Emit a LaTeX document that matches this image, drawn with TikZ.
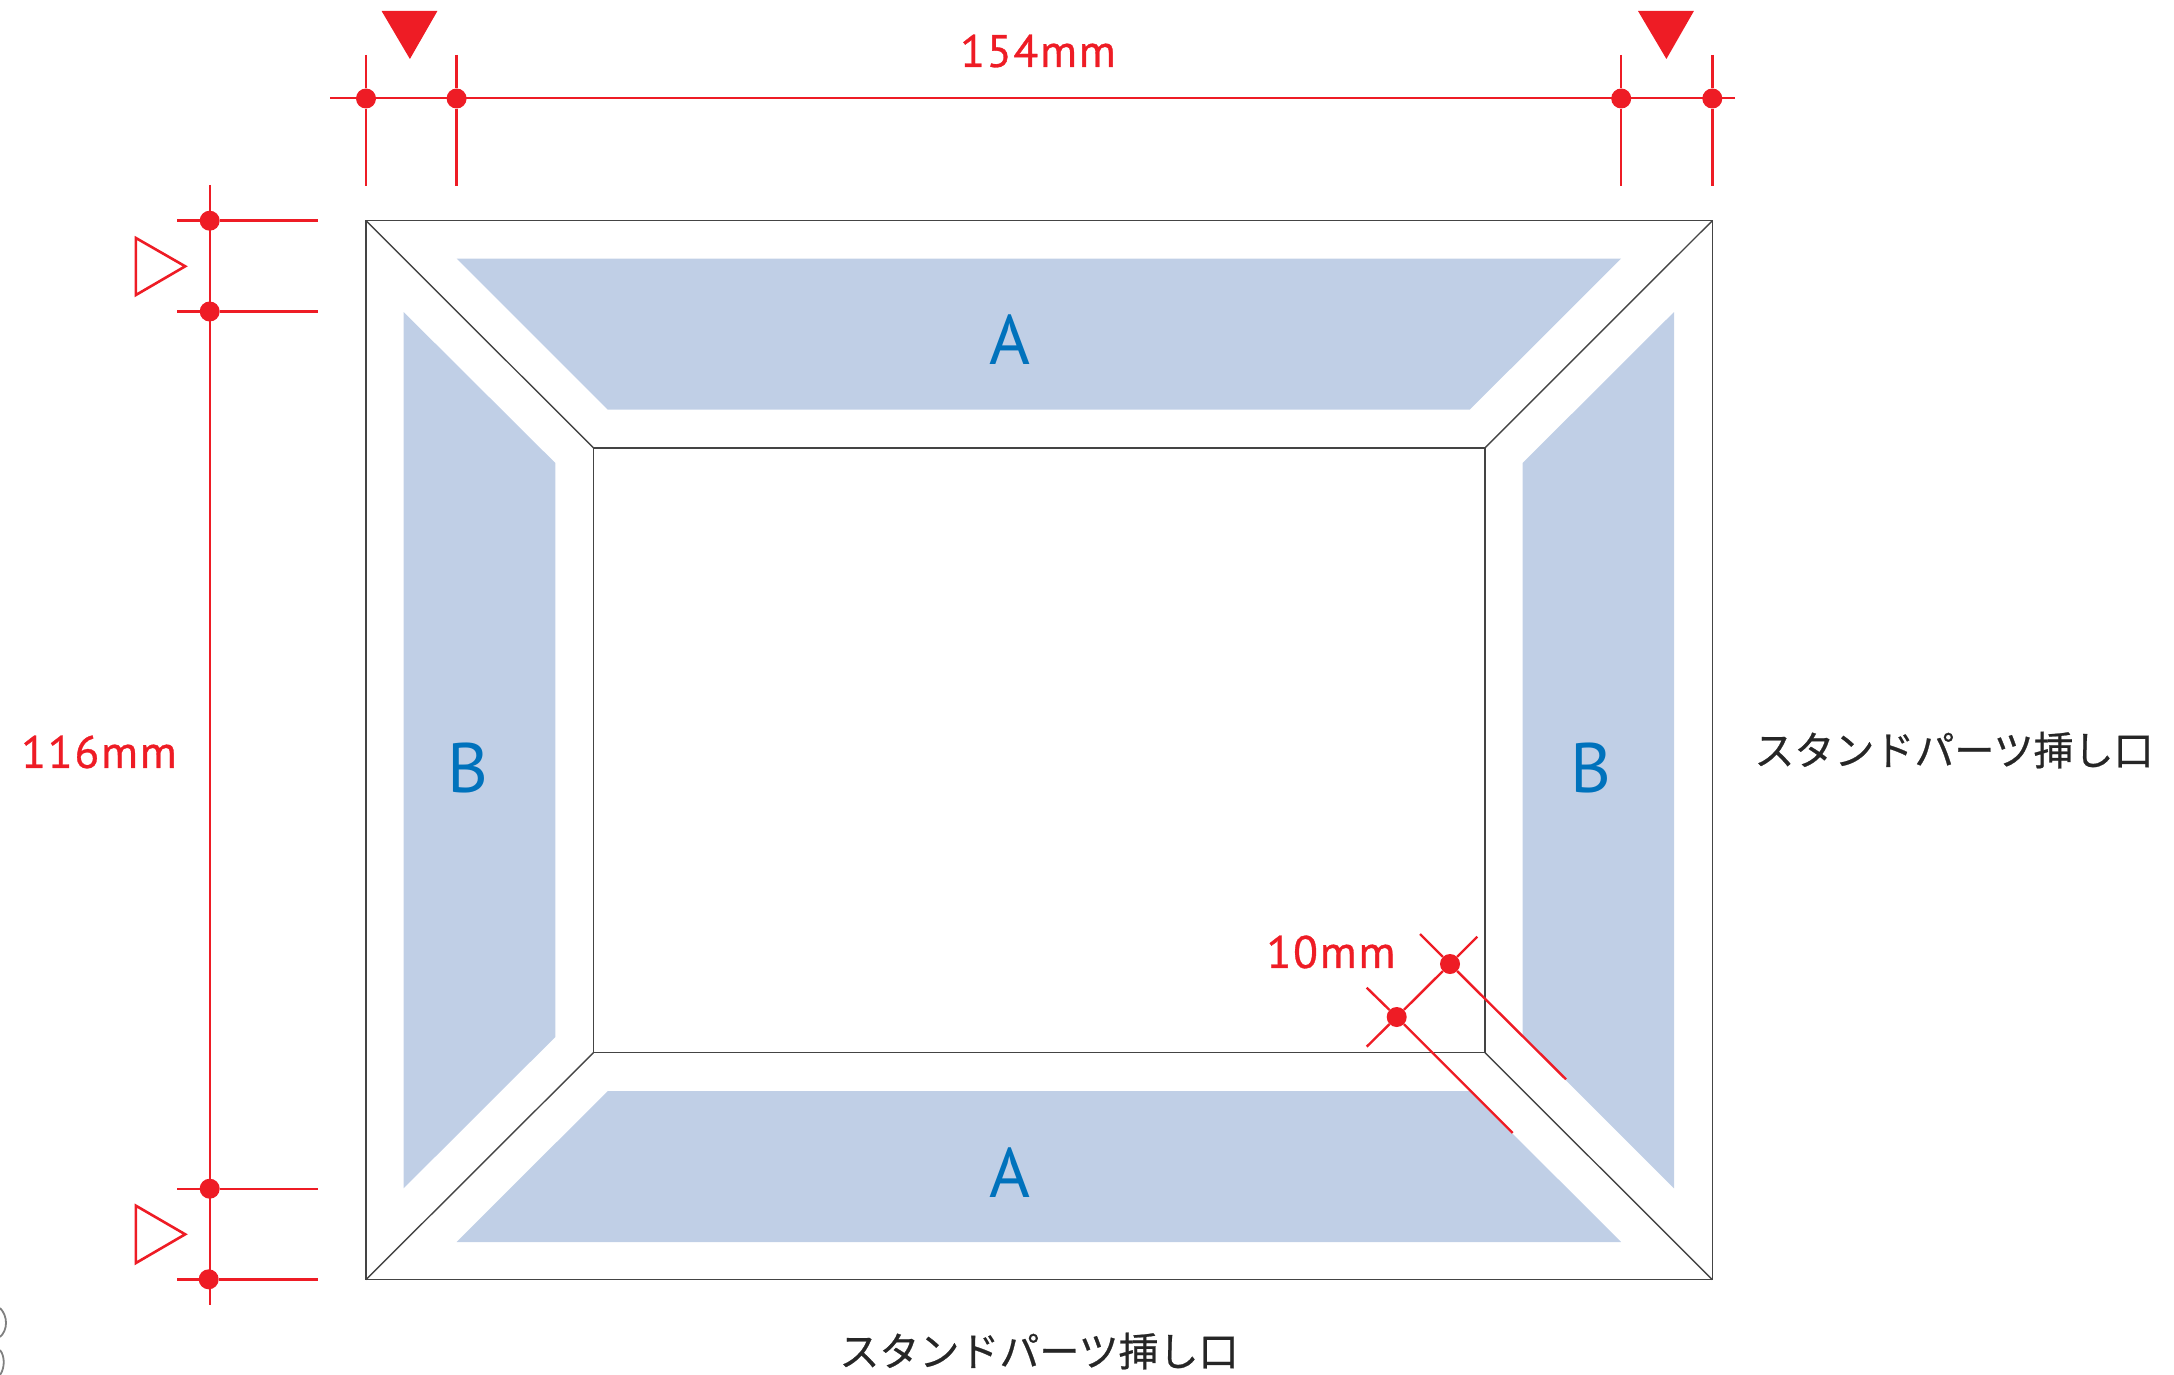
\documentclass[tikz,border=0pt]{standalone}
\usepackage{fontspec}
\setmainfont{PT Sans}
\newfontfamily\dimfont[FakeBold=0.7,LetterSpace=4]{PT Sans}
\newfontfamily\jpfont[FakeBold=0.6]{Noto Sans CJK JP}
\definecolor{dimred}{HTML}{EE1C25}
\definecolor{panelblue}{HTML}{C0CFE6}
\definecolor{letterblue}{HTML}{0072BC}
\definecolor{framegray}{HTML}{444444}

\begin{document}
\begin{tikzpicture}[x=1pt,y=-1pt]
\tikzstyle{panel}=[fill=panelblue,draw=none]
\tikzstyle{frame}=[draw=framegray,line width=1.4pt]
\tikzstyle{dimline}=[draw=dimred,line width=2.4pt]
\tikzstyle{dimdot}=[circle,fill=dimred,inner sep=0pt,minimum size=20pt]
\tikzstyle{dimtext}=[text=dimred,font=\dimfont\fontsize{45.5}{46}\selectfont,inner sep=0pt]
\tikzstyle{letter}=[text=letterblue,font=\fontsize{70}{70}\selectfont,inner sep=0pt]
\tikzstyle{note}=[text=black!85,font=\jpfont\fontsize{40}{40}\selectfont,inner sep=0pt]

\useasboundingbox (0,0) rectangle (2174,1375);

% blue panels
\fill[panel] (456.6,258.5) -- (1621.2,258.5) -- (1469.7,409.7) -- (607.8,409.7) -- cycle;
\fill[panel] (607.8,1091) -- (1469.7,1091) -- (1621.2,1242) -- (456.6,1242) -- cycle;
\fill[panel] (403.6,312) -- (555.3,463) -- (555.3,1037) -- (403.6,1188.3) -- cycle;
\fill[panel] (1674,312) -- (1522.6,463) -- (1522.6,1037) -- (1674,1188.3) -- cycle;

% frame
\coordinate (outer_nw) at (366,220.7);
\coordinate (outer_ne) at (1712.3,220.7);
\coordinate (outer_sw) at (366,1279.6);
\coordinate (outer_se) at (1712.3,1279.6);
\coordinate (inner_nw) at (593.4,447.8);
\coordinate (inner_ne) at (1485,447.8);
\coordinate (inner_sw) at (593.4,1052.7);
\coordinate (inner_se) at (1485,1052.7);

\draw[frame] (outer_nw) -- (outer_ne) -- (outer_se) -- (outer_sw) -- cycle;
\draw[frame] (inner_nw) -- (inner_ne) -- (inner_se) -- (inner_sw) -- cycle;
\draw[frame] (outer_nw) -- (inner_nw);
\draw[frame] (outer_ne) -- (inner_ne);
\draw[frame] (outer_sw) -- (inner_sw);
\draw[frame] (outer_se) -- (inner_se);

\node at (1010,340) [letter] (a_top) {A};
\node at (1010,1173) [letter] (a_bottom) {A};
\node at (468,768) [letter] (b_left) {B};
\node at (1591,768) [letter] (b_right) {B};

% top dimension
\node at (366,98.5) [dimdot] (top_a) {};
\node at (456.6,98.5) [dimdot] (top_b) {};
\node at (1621.2,98.5) [dimdot] (top_c) {};
\node at (1712.3,98.5) [dimdot] (top_d) {};
\coordinate (top_start) at (330,98);
\coordinate (top_end) at (1735,98);
\draw[dimline] (top_start) -- (top_end);
\foreach \x/\name in {366/a,456.6/b,1621.2/c,1712.3/d} {
  \draw[dimline] (\x,55) -- (top_\name) -- (\x,185.7);
}
\node at (1038,51) [dimtext] (top_label) {154mm};

\fill[dimred] (381.6,11) -- (437.4,11) -- (409.9,59) -- cycle;
\fill[dimred] (1638,11) -- (1693.9,11) -- (1666.4,59) -- cycle;

% left dimension
\node at (209.7,220.7) [dimdot] (left_a) {};
\node at (209.7,311.5) [dimdot] (left_b) {};
\node at (209.7,1188.7) [dimdot] (left_c) {};
\node at (208.7,1279.3) [dimdot] (left_d) {};
\coordinate (left_start) at (209.7,185);
\coordinate (left_end) at (209.7,1305);
\draw[dimline] (left_start) -- (left_end);
\foreach \y/\name in {220.7/a,311.5/b,1188.7/c,1279.3/d} {
  \draw[dimline] (177.3,\y) -- (left_\name) -- (317.7,\y);
}
\node at (99,752) [dimtext] (left_label) {116mm};

\draw[dimred,line width=2.6pt] (135.9,238) -- (185.2,266.3) -- (135.9,295) -- cycle;
\draw[dimred,line width=2.6pt] (135.9,1205.7) -- (185.2,1234.3) -- (135.9,1263) -- cycle;

% 10mm dimension
\node at (1450,964) [dimdot] (corner_a) {};
\node at (1396.7,1017) [dimdot] (corner_b) {};
\coordinate (corner_a_out) at (1477.3,936.7);
\coordinate (corner_b_out) at (1366.7,1046.7);
\coordinate (corner_a_back) at (1420,934);
\coordinate (corner_a_long) at (1566,1079.3);
\coordinate (corner_b_back) at (1366.7,987.7);
\coordinate (corner_b_long) at (1512.7,1133);
\draw[dimline] (corner_a_out) -- (corner_a) -- (corner_b) -- (corner_b_out);
\draw[dimline] (corner_a_back) -- (corner_a) -- (corner_a_long);
\draw[dimline] (corner_b_back) -- (corner_b) -- (corner_b_long);
\node at (1331,952) [dimtext] (corner_label) {10mm};

% notes
\node at (1954,750) [note] (note_right) {スタンドパーツ挿し口};
\node at (1039,1351) [note] (note_bottom) {スタンドパーツ挿し口};

% cropped marks on the left edge
\draw[gray,line width=1.8pt] (0,1308) .. controls (8,1316) and (8,1330) .. (0,1337);
\draw[gray,line width=1.8pt] (0,1350) .. controls (5,1356) and (5,1368) .. (0,1375);

\end{tikzpicture}
\end{document}
